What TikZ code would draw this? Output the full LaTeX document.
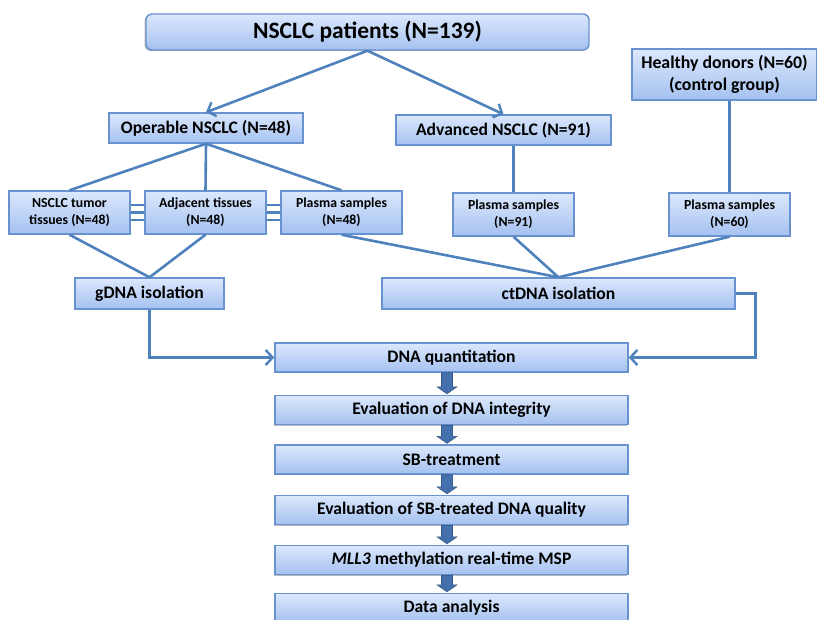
\documentclass[tikz,border=0pt]{standalone}
\usepackage{fontspec}
\setmainfont{Carlito}
\usetikzlibrary{arrows.meta,shadows}

\definecolor{linkblue}{RGB}{79,129,189}
\definecolor{boxline}{RGB}{105,146,208}
\definecolor{boxtop}{RGB}{220,232,252}
\definecolor{boxbottom}{RGB}{164,193,240}
\definecolor{arrowblue}{RGB}{68,112,173}

\tikzset{
  box/.style={draw=boxline, line width=1.4pt, top color=boxtop, bottom color=boxbottom,
    align=center, inner sep=0pt, font=\bfseries,
    drop shadow={shadow xshift=-1.5pt, shadow yshift=-1pt, fill=black!60, opacity=.45}},
  link/.style={draw=linkblue, line width=2.6pt},
  openarrow/.style={-{Straight Barb[length=7pt, width=15pt, line width=2.4pt]}},
  blockarrow/.style={draw=arrowblue!80!black, fill=arrowblue, line width=.6pt}
}

\newcommand{\fatarrow}[2]{%
  \path ([xshift=-4.5pt]#1.south) coordinate (fa-a) ([xshift=-4.5pt]#2.north) coordinate (fa-b);
  \filldraw[blockarrow] ([xshift=-5.5pt]fa-a) -- ([xshift=5.5pt]fa-a)
    -- ([xshift=5.5pt,yshift=8pt]fa-b) -- ([xshift=10pt,yshift=8pt]fa-b)
    -- ([yshift=1pt]fa-b) -- ([xshift=-10pt,yshift=8pt]fa-b)
    -- ([xshift=-5.5pt,yshift=8pt]fa-b) -- cycle;}

\begin{document}
\begin{tikzpicture}[x=1pt, y=-1pt]
  \useasboundingbox (0,0) rectangle (817,619);

  % Patients
  \node[box, rounded corners=6pt, minimum width=443pt, minimum height=36pt,
    font=\bfseries\fontsize{23.5}{26}\selectfont] (patients) at (367.5,32) {NSCLC patients (N=139)};

  % Groups
  \node[box, minimum width=194pt, minimum height=30pt,
    font=\bfseries\fontsize{17.6}{20}\selectfont] (operable) at (206,128) {Operable NSCLC (N=48)};
  \node[box, minimum width=215pt, minimum height=30pt,
    font=\bfseries\fontsize{17.6}{20}\selectfont] (advanced) at (503.5,130) {Advanced NSCLC (N=91)};
  \node[box, minimum width=185pt, minimum height=51pt,
    font=\bfseries\fontsize{17.8}{22}\selectfont] (healthy) at (724.5,74.5) {Healthy donors (N=60)\\(control group)};

  % Samples
  \foreach \name/\px/\py/\txt in {
      tumor/69.5/212.5/{NSCLC tumor\\tissues (N=48)},
      adjacent/205.5/212.5/{Adjacent tissues\\(N=48)},
      plasmaA/341.5/212.5/{Plasma samples\\(N=48)},
      plasmaB/513.5/214.5/{Plasma samples\\(N=91)},
      plasmaC/729.5/214.5/{Plasma samples\\(N=60)}}
    \node[box, minimum width=121pt, minimum height=43pt,
      font=\bfseries\fontsize{13.8}{17}\selectfont] (\name) at (\px,\py) {\txt};

  % Isolation
  \node[box, minimum width=149pt, minimum height=31pt,
    font=\bfseries\fontsize{17.6}{20}\selectfont] (gdna) at (149.5,293.5) {gDNA isolation};
  \node[box, minimum width=353pt, minimum height=31pt,
    font=\bfseries\fontsize{17.6}{20}\selectfont] (ctdna) at (558.5,293.5) {ctDNA isolation};

  % Workflow
  \foreach \name/\py/\txt in {
      quant/357.5/{DNA quantitation},
      integrity/410/{Evaluation of DNA integrity},
      sbtreat/459.5/{SB-treatment},
      quality/510/{Evaluation of SB-treated DNA quality},
      msp/560/{\textit{MLL3} methylation real-time MSP},
      analysis/608/{Data analysis}}
    \node[box, minimum width=353pt, minimum height=29pt,
      font=\bfseries\fontsize{17.6}{20}\selectfont] (\name) at (451.5,\py) {\txt};

  % Links
  \draw[link, openarrow] (patients.south) -- (operable.north);
  \draw[link, openarrow] (patients.south) -- (advanced.north);
  \foreach \n in {tumor, adjacent, plasmaA}
    \draw[link] (operable.south) -- (\n.north);
  \draw[link] (advanced.south -| plasmaB.north) -- (plasmaB.north);
  \draw[link] (healthy.south -| plasmaC.north) -- (plasmaC.north);
  \foreach \dy in {-7.5,0,7.5} {
    \draw[link, line width=2.2pt] ([yshift=\dy pt]tumor.east) -- ([yshift=\dy pt]adjacent.west);
    \draw[link, line width=2.2pt] ([yshift=\dy pt]adjacent.east) -- ([yshift=\dy pt]plasmaA.west);
  }
  \draw[link] (tumor.south) -- (gdna.north);
  \draw[link] (adjacent.south) -- (gdna.north);
  \foreach \n in {plasmaA, plasmaB, plasmaC}
    \draw[link] (\n.south) -- (ctdna.north);
  \draw[link, openarrow] (gdna.south) |- (quant.west);
  \draw[link, openarrow] (ctdna.east) -- ++(20,0) |- (quant.east);

  % Block arrows
  \fatarrow{quant}{integrity}
  \fatarrow{integrity}{sbtreat}
  \fatarrow{sbtreat}{quality}
  \fatarrow{quality}{msp}
  \fatarrow{msp}{analysis}
\end{tikzpicture}
\end{document}
